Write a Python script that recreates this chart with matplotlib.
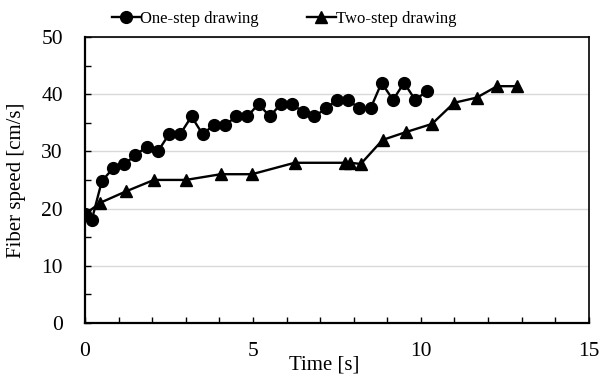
import numpy as np
import matplotlib
matplotlib.use("Agg")
import matplotlib.pyplot as plt
from matplotlib.ticker import MultipleLocator

plt.rcParams['font.family'] = ['Liberation Serif', 'DejaVu Serif']

# one-step drawing (circles)
t_one = [0.0, 0.2, 0.5, 0.83, 1.17, 1.5, 1.83, 2.17, 2.5, 2.83, 3.17, 3.5,
         3.83, 4.17, 4.5, 4.83, 5.17, 5.5, 5.83, 6.17, 6.5, 6.83, 7.17, 7.5,
         7.83, 8.17, 8.5, 8.83, 9.17, 9.5, 9.83, 10.17]
v_one = [19.0, 18.0, 24.8, 27.0, 27.8, 29.3, 30.8, 30.0, 33.0, 33.0, 36.1, 33.0,
         34.6, 34.6, 36.1, 36.1, 38.3, 36.1, 38.3, 38.3, 36.8, 36.1, 37.5, 39.0,
         39.0, 37.5, 37.5, 42.0, 39.0, 42.0, 39.0, 40.5]

# two-step drawing (triangles)
t_two = [0.0, 0.45, 1.22, 2.05, 3.0, 4.04, 4.97, 6.24, 7.74, 7.89, 8.21,
         8.86, 9.57, 10.33, 10.99, 11.66, 12.27, 12.87]
v_two = [19.0, 21.0, 23.0, 25.0, 25.0, 26.0, 26.0, 28.0, 28.0, 28.0, 27.8,
         32.0, 33.4, 34.8, 38.5, 39.4, 41.4, 41.4]

fig = plt.figure(figsize=(5.99, 3.78), dpi=100)
ax = fig.add_axes([0.142, 0.146, 0.841, 0.756])

ax.plot(t_one, v_one, color='black', lw=1.7, marker='o', ms=8.5, label='One-step drawing')
ax.plot(t_two, v_two, color='black', lw=1.7, marker='^', ms=8.5, label='Two-step drawing')

ax.set_xlim(0, 15)
ax.set_ylim(0, 50)
ax.xaxis.set_major_locator(MultipleLocator(5))
ax.xaxis.set_minor_locator(MultipleLocator(1))
ax.yaxis.set_major_locator(MultipleLocator(10))
ax.yaxis.set_minor_locator(MultipleLocator(5))
ax.grid(axis='y', which='major', color='#d9d9d9', lw=1)
ax.set_axisbelow(True)

for s in ['left', 'bottom']:
    ax.spines[s].set_linewidth(1.6)
for s in ['top', 'right']:
    ax.spines[s].set_linewidth(1.2)

ax.tick_params(axis='x', which='both', direction='in', length=4, width=1,
               labelsize=15.5, pad=14)
ax.tick_params(axis='y', which='both', direction='in', length=4, width=1,
               labelsize=15.5, pad=16)

ax.set_xlabel('Time [s]', fontsize=15)
ax.set_ylabel('Fiber speed [cm/s]', fontsize=15)
ax.xaxis.set_label_coords(0.475, -0.115)
ax.yaxis.set_label_coords(-0.118, 0.5)

ax.legend(loc='lower center', bbox_to_anchor=(0.395, 1.005), ncol=2, frameon=False,
          fontsize=12, handlelength=1.7, handletextpad=0.0, columnspacing=2.9,
          borderaxespad=0.1)

fig.savefig('out.png', dpi=100)
